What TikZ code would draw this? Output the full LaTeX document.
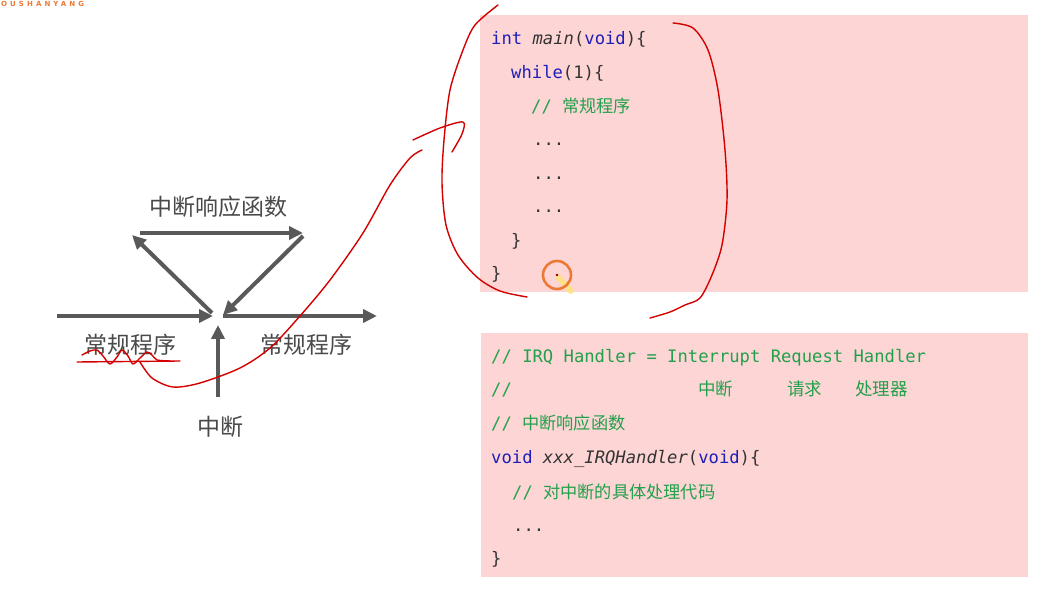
\documentclass[tikz,border=0pt]{standalone}
\usepackage{fontspec}
\setmonofont{DejaVu Sans Mono}
\newfontfamily\cjk{Noto Sans CJK SC}
\newfontfamily\wmfont{DejaVu Sans}[LetterSpace=44]
\usetikzlibrary{arrows.meta}
\definecolor{ink}{HTML}{333333}
\definecolor{arrowgray}{HTML}{595959}
\definecolor{labelgray}{HTML}{4A4A4A}
\definecolor{panelpink}{HTML}{FDD5D5}
\definecolor{kwblue}{HTML}{1F1FB8}
\definecolor{cmtgreen}{HTML}{22A04B}
\definecolor{pen}{HTML}{D40000}
\definecolor{pointerorange}{HTML}{EC7A36}
\definecolor{glow}{HTML}{FFE27A}
\newcommand{\kw}[1]{\textcolor{kwblue}{#1}}
\newcommand{\cmt}[1]{\textcolor{cmtgreen}{#1}}

\begin{document}
\begin{tikzpicture}[
  x=1pt,
  y=-1pt,
  flow/.style={
    -{Triangle[length=14pt,width=13pt]},line width=4pt,draw=arrowgray
  },
  flowtext/.style={
    inner sep=0pt,text=labelgray,font=\cjk\fontsize{23}{23}\selectfont
  },
  panel/.style={fill=panelpink,draw=none},
  codeline/.style={
    anchor=base west,inner sep=0pt,text=ink,
    font=\ttfamily\fontsize{17.2}{20}\selectfont
  },
  cjkword/.style={codeline,text=cmtgreen,font=\cjk\fontsize{17.5}{20}\selectfont},
  scribble/.style={draw=pen,line width=1.4pt,line cap=round,line join=round}
]
  \fill[white] (0,0) rectangle (1050,609);
  \useasboundingbox (0,0) rectangle (1050,609);
  \node[anchor=north west,inner sep=0pt,text=pointerorange,
    font=\wmfont\bfseries\fontsize{7}{7}\selectfont] (wm) at (1,1) {OUSHANYANG};

  % interrupt flow
  \coordinate (top-l) at (140,233);
  \coordinate (top-r) at (303,233);
  \coordinate (diag-lo) at (212,313);
  \coordinate (diag-lt) at (132,235);
  \coordinate (diag-rt) at (303,236);
  \coordinate (diag-ro) at (223,315);
  \coordinate (main-in) at (57,316);
  \coordinate (main-stop) at (213,316);
  \coordinate (main-go) at (223,316);
  \coordinate (main-out) at (377,316);
  \coordinate (irq-src) at (218,397);
  \coordinate (irq-hit) at (218,325);
  \draw[flow] (top-l) -- (top-r);
  \draw[flow] (diag-lo) -- (diag-lt);
  \draw[flow] (diag-rt) -- (diag-ro);
  \draw[flow] (main-in) -- (main-stop);
  \draw[flow] (main-go) -- (main-out);
  \draw[flow] (irq-src) -- (irq-hit);
  \node[flowtext] (isr-name) at (218,207) {中断响应函数};
  \node[flowtext] (prog-before) at (130,345) {常规程序};
  \node[flowtext] (prog-after) at (306,345) {常规程序};
  \node[flowtext] (irq-name) at (220,427) {中断};

  % main loop
  \path[panel] (480,15) rectangle (1028,292);
  \node[codeline] (m1) at (491,45) {\kw{int} \textit{main}(\kw{void})\{};
  \node[codeline] (m2) at (511,79) {\kw{while}(1)\{};
  \node[codeline] (m3) at (531,113) {\cmt{// {\cjk 常规程序}}};
  \node[codeline] (m4) at (533,146) {...};
  \node[codeline] (m5) at (533,180) {...};
  \node[codeline] (m6) at (533,213) {...};
  \node[codeline] (m7) at (511,247) {\}};
  \node[codeline] (m8) at (491,280) {\}};

  % handler
  \path[panel] (481,333) rectangle (1028,577);
  \node[codeline] (h1) at (491,363)
    {\cmt{// IRQ Handler = Interrupt Request Handler}};
  \node[codeline] (h2) at (491,396) {\cmt{//}};
  \node[cjkword] (h2-irq) at (698,396) {中断};
  \node[cjkword] (h2-req) at (787,396) {请求};
  \node[cjkword] (h2-hdl) at (855,396) {处理器};
  \node[codeline] (h3) at (491,430) {\cmt{// {\cjk 中断响应函数}}};
  \node[codeline] (h4) at (491,464)
    {\kw{void} \textit{xxx\_IRQHandler}(\kw{void})\{};
  \node[codeline] (h5) at (512,498) {\cmt{// {\cjk 对中断的具体处理代码}}};
  \node[codeline] (h6) at (513,531) {...};
  \node[codeline] (h7) at (491,564) {\}};

  % pointer
  \draw[glow,line width=6pt,line cap=round,opacity=0.8] (558,277) -- (571,291);
  \draw[pointerorange,line width=2.6pt] (557,275) circle[radius=14pt];
  \fill[pen!70!black] (557,275) circle[radius=1.3pt];

  % pen marks
  \draw[scribble] (77,362) -- (180,361);
  \draw[scribble] plot[smooth] coordinates {(82,355) (90,351) (97,350) (103,356)
    (110,364) (117,357) (122,350) (128,356) (133,364) (140,358) (147,352)
    (152,355) (157,360) (170,361)};
  \draw[scribble] plot[smooth] coordinates {(140,362) (152,378) (173,387)
    (200,383) (240,368) (270,348) (300,316) (330,280) (363,233) (390,185)
    (410,158) (422,150)};
  \draw[scribble] plot[smooth] coordinates {(413,140) (440,128) (463,122)
    (462,134) (452,152)};
  \draw[scribble] plot[smooth] coordinates {(498,5) (475,25) (463,50) (450,90)
    (444,140) (442,183) (446,225) (458,255) (478,278) (500,291) (527,297)};
  \draw[scribble] plot[smooth] coordinates {(673,23) (693,28) (708,50) (718,90)
    (725,150) (727,200) (722,245) (712,275) (700,298) (685,305) (670,312)
    (650,318)};
\end{tikzpicture}
\end{document}
